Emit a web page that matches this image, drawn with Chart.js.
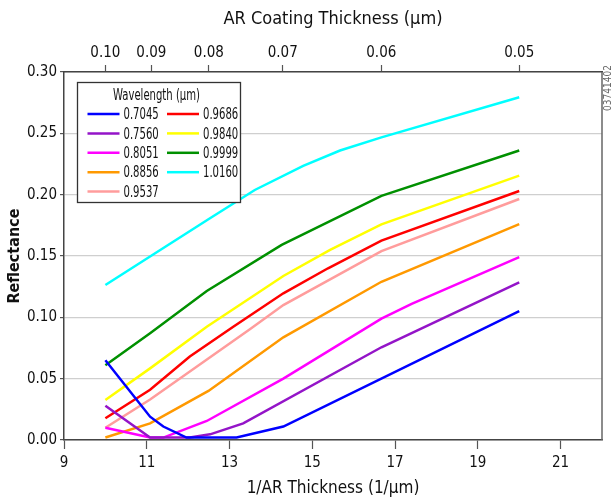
<!DOCTYPE html>
<html lang="en">
<head>
<meta charset="utf-8">
<title>Reflectance vs 1/AR Thickness</title>
<script src="https://cdn.jsdelivr.net/npm/chart.js@4.4.1/dist/chart.umd.min.js"></script>
<style>
  html, body { margin: 0; padding: 0; background: #fff; }
  #zone { width: 613px; height: 502px; }
</style>
</head>
<body>
<div id="zone"><canvas id="graphique" width="613" height="502"></canvas></div>
<script>
// ================================
// DONNÉES
// ================================

const TICKS_BAS  = [9, 11, 13, 15, 17, 19, 21];
const TICKS_HAUT = [0.10, 0.09, 0.08, 0.07, 0.06, 0.05];   // épaisseur en µm
const TICKS_Y    = [0, 0.05, 0.10, 0.15, 0.20, 0.25, 0.30];

// une paire de tableaux par longueur d'onde (x = 1/épaisseur, y = réflectance)
const X_7045 = [10, 11.08, 11.4, 11.96, 13.17, 14.3, 20];
const Y_7045 = [0.065, 0.019, 0.011, 0.002, 0.002, 0.011, 0.105];

const X_7560 = [10, 11.08, 12.04, 12.53, 13.33, 16.67, 20];
const Y_7560 = [0.028, 0.002, 0.002, 0.0046, 0.0136, 0.0756, 0.1285];

const X_8051 = [10, 11.08, 11.4, 12.45, 14.3, 16.67, 17.4, 20];
const Y_8051 = [0.010, 0.002, 0.002, 0.0155, 0.050, 0.099, 0.111, 0.149];

const X_8856 = [10, 11.08, 12.49, 14.3, 16.67, 20];
const Y_8856 = [0.002, 0.0136, 0.040, 0.0837, 0.129, 0.176];

const X_9537 = [10, 11.08, 13.5, 14.3, 16.67, 20];
const Y_9537 = [0.010, 0.033, 0.0905, 0.110, 0.154, 0.1965];

const X_9686 = [10, 11.08, 12.04, 13.09, 14.3, 15.38, 16.67, 20];
const Y_9686 = [0.0177, 0.041, 0.068, 0.0924, 0.1196, 0.140, 0.1625, 0.203];

const X_9840 = [10, 11.08, 12.45, 13.49, 14.3, 15.43, 16.67, 20];
const Y_9840 = [0.0326, 0.0584, 0.0924, 0.1155, 0.1337, 0.155, 0.1758, 0.2155];

const X_9999 = [10, 11.08, 12.45, 14.26, 16.67, 20];
const Y_9999 = [0.061, 0.087, 0.1215, 0.159, 0.199, 0.236];

const X_10160 = [10, 12.49, 13.61, 14.78, 15.67, 16.67, 20];
const Y_10160 = [0.1264, 0.180, 0.2038, 0.2234, 0.236, 0.2467, 0.2794];

// ================================
// CONFIGURATION
// ================================

const POLICE = "'Liberation Sans Narrow', 'DejaVu Sans Condensed', 'Noto Sans', sans-serif";

const SERIES = [
  { nom: '0.7045', couleur: '#0000ff', x: X_7045,  y: Y_7045 },
  { nom: '0.7560', couleur: '#9414c8', x: X_7560,  y: Y_7560 },
  { nom: '0.8051', couleur: '#ff00ff', x: X_8051,  y: Y_8051 },
  { nom: '0.8856', couleur: '#ff9900', x: X_8856,  y: Y_8856 },
  { nom: '0.9537', couleur: '#ff9c9c', x: X_9537,  y: Y_9537 },
  { nom: '0.9686', couleur: '#ff0000', x: X_9686,  y: Y_9686 },
  { nom: '0.9840', couleur: '#ffff00', x: X_9840,  y: Y_9840 },
  { nom: '0.9999', couleur: '#009000', x: X_9999,  y: Y_9999 },
  { nom: '1.0160', couleur: '#00ffff', x: X_10160, y: Y_10160 },
];

Chart.defaults.font.family = POLICE;
Chart.defaults.color = '#111';

// texte resserré horizontalement (police condensée de l'original)
function texteEtroit(ctx, texte, x, y, serrage) {
  ctx.save();
  ctx.translate(x, y);
  ctx.scale(serrage, 1);
  ctx.fillText(texte, 0, 0);
  ctx.restore();
}

// ================================
// LÉGENDE + CADRE (plugin maison)
// ================================

const pluginDecor = {
  id: 'decor',
  afterDraw: function(chart) {
    const ctx = chart.ctx;
    const zone = chart.chartArea;

    // bord droit du graphique
    ctx.save();
    ctx.strokeStyle = '#666';
    ctx.lineWidth = 1.5;
    ctx.beginPath();
    ctx.moveTo(zone.right, zone.top);
    ctx.lineTo(zone.right, zone.bottom);
    ctx.stroke();

    // boîte de légende
    const gx = zone.left + 13.5;
    const gy = zone.top + 10.5;
    ctx.fillStyle = '#fff';
    ctx.fillRect(gx, gy, 163, 120);
    ctx.strokeStyle = '#333';
    ctx.lineWidth = 1.3;
    ctx.strokeRect(gx, gy, 163, 120);

    ctx.fillStyle = '#111';
    ctx.font = '16px ' + POLICE;
    ctx.textAlign = 'center';
    ctx.textBaseline = 'middle';
    texteEtroit(ctx, 'Wavelength (µm)', gx + 79, gy + 13, 0.7);

    ctx.textAlign = 'left';
    SERIES.forEach(function(s, i) {
      const col = i < 5 ? 0 : 1;
      const ligne = i < 5 ? i : i - 5;
      const x0 = gx + 10 + col * 79.5;
      const y0 = gy + 31.5 + ligne * 19.4;
      ctx.strokeStyle = s.couleur;
      ctx.lineWidth = 2.5;
      ctx.beginPath();
      ctx.moveTo(x0, y0);
      ctx.lineTo(x0 + 32, y0);
      ctx.stroke();
      ctx.fillStyle = '#111';
      texteEtroit(ctx, s.nom, x0 + 36, y0 + 1, 0.7);
    });

    // référence de la figure, verticale à droite
    ctx.translate(608, 88);
    ctx.rotate(-Math.PI / 2);
    ctx.font = '10px ' + POLICE;
    ctx.fillStyle = '#666';
    ctx.textAlign = 'center';
    ctx.fillText('03741402', 0, 0);
    ctx.restore();
  }
};

// ================================
// GRAPHIQUE
// ================================

function creerGraphique() {
  const canvas = document.getElementById('graphique');

  const datasets = SERIES.map(function(s) {
    return {
      label: s.nom,
      data: s.x.map(function(v, k) { return { x: v, y: s.y[k] }; }),
      borderColor: s.couleur,
      backgroundColor: s.couleur,
      borderWidth: 2.5,
      pointRadius: 0,
      showLine: true,
      tension: 0,
    };
  });

  const policeTicks = { size: 15 };

  new Chart(canvas, {
    type: 'scatter',
    data: { datasets: datasets },
    plugins: [pluginDecor],
    options: {
      responsive: false,
      animation: false,
      devicePixelRatio: 1,
      layout: { padding: { left: 0, right: 11, top: 0, bottom: 0 } },
      plugins: {
        legend: { display: false },
        tooltip: { enabled: false }
      },
      scales: {
        x: {
          type: 'linear',
          position: 'bottom',
          min: 9,
          max: 22,
          afterBuildTicks: function(axe) {
            axe.ticks = TICKS_BAS.map(function(v) { return { value: v }; });
          },
          afterFit: function(axe) { axe.height = 62; },
          ticks: { font: policeTicks, padding: 5, maxRotation: 0 },
          grid: { drawOnChartArea: false, tickLength: 9, color: '#555', tickWidth: 1.2 },
          border: { color: '#444', width: 1.5 },
          title: { display: true, text: '1/AR Thickness (1/µm)', font: { size: 17 }, padding: { top: 2, bottom: 3 } }
        },
        x2: {
          type: 'linear',
          position: 'top',
          min: 9,
          max: 22,
          afterBuildTicks: function(axe) {
            axe.ticks = TICKS_HAUT.map(function(t) { return { value: 1 / t }; });
          },
          afterFit: function(axe) { axe.height = 72; },
          ticks: {
            font: policeTicks,
            padding: 3,
            maxRotation: 0,
            autoSkip: false,
            callback: function(v) { return (1 / v).toFixed(2); }
          },
          grid: { drawOnChartArea: false, tickLength: 7, color: '#555', tickWidth: 1.2 },
          border: { color: '#444', width: 1.5 },
          title: { display: true, text: 'AR Coating Thickness (µm)', font: { size: 18 }, padding: { top: 9, bottom: 4 } }
        },
        y: {
          min: 0,
          max: 0.30,
          afterBuildTicks: function(axe) {
            axe.ticks = TICKS_Y.map(function(v) { return { value: v }; });
          },
          afterFit: function(axe) { axe.width = 64; },
          ticks: {
            font: policeTicks,
            padding: 3,
            callback: function(v) { return v.toFixed(2); }
          },
          grid: { color: '#cfcfcf', lineWidth: 1.2, tickLength: 4, tickColor: '#555' },
          border: { color: '#444', width: 1.5 },
          title: { display: true, text: 'Reflectance', font: { size: 16, weight: 'bold' }, padding: { top: 5, bottom: 4 } }
        }
      }
    }
  });
}

creerGraphique();
</script>
</body>
</html>
